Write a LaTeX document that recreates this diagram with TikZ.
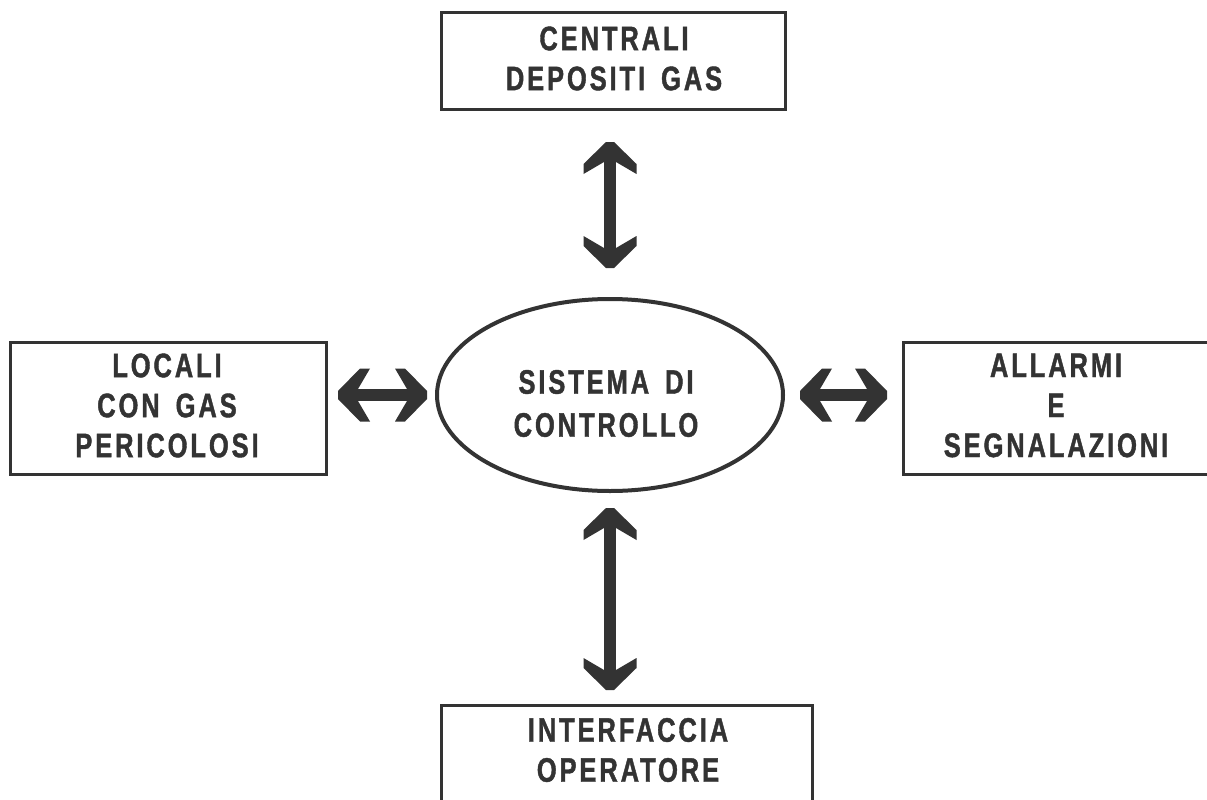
\documentclass[tikz,border=0pt]{standalone}
\usepackage{fontspec}
\newfontfamily\labelfamily{Liberation Sans}[FakeStretch=0.75, LetterSpace=8.5,
  WordSpace=1.6, BoldFeatures={FakeBold=1.2}]
\usetikzlibrary{arrows.meta,shapes.geometric}
\definecolor{ink}{HTML}{333333}

% Broad chevron head used on the double connectors
\pgfdeclarearrow{
  name = Chev,
  setup code = {
    \pgfarrowssettipend{0pt}
    \pgfarrowssetlineend{-18pt}
    \pgfarrowssetbackend{-32pt}
    \pgfarrowsupperhullpoint{0pt}{4pt}
    \pgfarrowsupperhullpoint{-22pt}{26.5pt}
    \pgfarrowsupperhullpoint{-32pt}{26.5pt}
  },
  drawing code = {
    \pgfpathmoveto{\pgfqpoint{0pt}{4pt}}
    \pgfpathlineto{\pgfqpoint{-22pt}{26.5pt}}
    \pgfpathlineto{\pgfqpoint{-32pt}{26.5pt}}
    \pgfpathlineto{\pgfqpoint{-20pt}{6pt}}
    \pgfpathlineto{\pgfqpoint{-20pt}{-6pt}}
    \pgfpathlineto{\pgfqpoint{-32pt}{-26.5pt}}
    \pgfpathlineto{\pgfqpoint{-22pt}{-26.5pt}}
    \pgfpathlineto{\pgfqpoint{0pt}{-4pt}}
    \pgfpathclose
    \pgfusepathqfill
  }
}

\begin{document}
\begin{tikzpicture}[x=1pt, y=-1pt,
  blockbox/.style={draw=ink, line width=3pt, rectangle, inner sep=0pt},
  hub/.style={draw=ink, line width=4pt, ellipse, inner sep=0pt,
              minimum width=346pt, minimum height=192pt},
  caption/.style={text=ink, align=center, inner sep=0pt,
                  font=\labelfamily\bfseries\fontsize{34}{40}\selectfont},
  link/.style={draw=ink, fill=ink, line width=12pt, arrows={Chev-Chev}}
]
\useasboundingbox (0,0) rectangle (1207,800);
\fill[white] (0,0) rectangle (1207,800);

% blocks
\node[blockbox, minimum width=344pt, minimum height=96pt]  (top) at (613,61) {};
\node[blockbox, minimum width=316pt, minimum height=132pt] (lft) at (168,408) {};
\node[blockbox, minimum width=307pt, minimum height=132pt] (rgt) at (1056.5,408) {};
\node[blockbox, minimum width=371pt, minimum height=110pt] (bot) at (626.5,760) {};
\node[hub] (ell) at (610,395) {};

% captions
\node[caption] (topText) at (614,58.5) {CENTRALI\\DEPOSITI GAS};
\node[caption] (lftText) at (167,405.5) {LOCALI\\CON GAS\\PERICOLOSI};
\node[caption] (rgtText) at (1056,405.5) {ALLARMI\\E\\SEGNALAZIONI};
\node[caption] (botText) at (628,750) {INTERFACCIA\\OPERATORE};
\node[caption, font=\labelfamily\bfseries\fontsize{34}{43}\selectfont]
  (ellText) at (606,403.5) {SISTEMA DI\\CONTROLLO};

% connectors
\draw[link, shorten <=31.5pt, shorten >=29pt] (ell.north |- top.south) -- (ell.north);
\draw[link, shorten <=15pt, shorten >=13.5pt] (ell.south) -- (ell.south |- bot.north);
\draw[link, shorten <=10.5pt, shorten >=8pt] (ell.west -| lft.east) -- (ell.west);
\draw[link, shorten <=15pt, shorten >=14.5pt] (ell.east) -- (ell.east -| rgt.west);
\end{tikzpicture}
\end{document}
